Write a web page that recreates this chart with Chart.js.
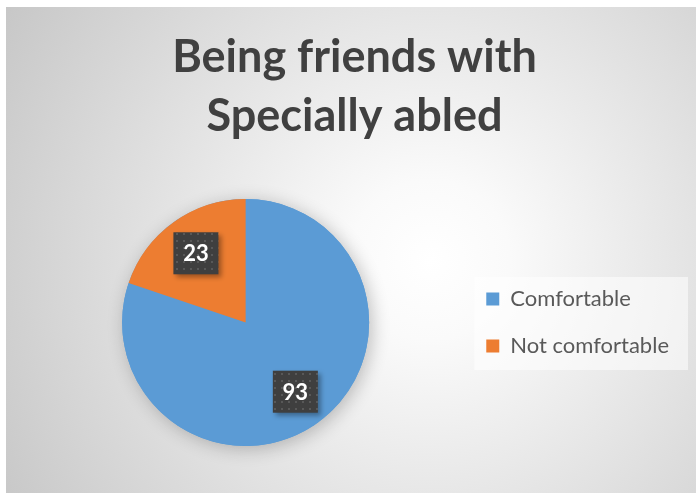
<!DOCTYPE html>
<html>
<head>
<meta charset="utf-8">
<script src="https://cdn.jsdelivr.net/npm/chart.js@4"></script>
<style>
  html, body { margin: 0; padding: 0; background: #ffffff; }
  #wrap {
    position: absolute; left: 6px; top: 7px; width: 690px; height: 486px;
    background: radial-gradient(circle at 424px 253px, #ffffff 0px, #fafafa 80px, #c4c4c4 520px);
  }
</style>
</head>
<body>
<div id="wrap"><canvas id="myChart" width="690" height="486"></canvas></div>
<script>
const categories = ['Comfortable', 'Not comfortable'];
const counts = [93, 23];
const sliceColors = ['#5B9BD5', '#ED7D31'];
const chartTitle = ['Being friends with', 'Specially abled'];

// dark dotted fill used behind the value labels
function dotPattern(ctx) {
    const c = document.createElement('canvas');
    c.width = 7; c.height = 7;
    const p = c.getContext('2d');
    p.fillStyle = '#3f3f3f';
    p.fillRect(0, 0, 7, 7);
    p.fillStyle = '#585858';
    p.fillRect(2, 2, 2, 2);
    return ctx.createPattern(c, 'repeat');
}

const extras = {
    id: 'extras',
    afterLayout(chart) {
        // keep the legend items centred on the pie
        const lg = chart.legend;
        const lab = lg.options.labels;
        const n = lg.legendItems ? lg.legendItems.length : categories.length;
        const itemH = lab.font.size;
        const block = n * itemH + (n - 1) * lab.padding;
        const mid = (chart.chartArea.top + chart.chartArea.bottom) / 2;
        const h = lg.height;
        lg.top = mid - block / 2 - lab.padding;
        lg.bottom = lg.top + h;
    },
    beforeDraw(chart) {
        // soft panel behind the legend
        const lg = chart.legend;
        const lab = lg.options.labels;
        const n = categories.length;
        const ctx = chart.ctx;
        ctx.font = lab.font.size + 'px Lato';
        let textW = 0;
        categories.forEach(t => { textW = Math.max(textW, ctx.measureText(t).width); });
        const x0 = lg.left + lab.padding - 12;
        const y0 = lg.top + lab.padding - 11;
        const w = lab.boxWidth + lab.font.size / 2 + textW + 31;
        const h = n * lab.font.size + (n - 1) * lab.padding + 24;
        ctx.save();
        ctx.fillStyle = 'rgba(255,255,255,0.55)';
        ctx.fillRect(x0, y0, w, h);
        ctx.restore();
    },
    beforeDatasetsDraw(chart) {
        // shadow under the whole pie
        const arc = chart.getDatasetMeta(0).data[0];
        if (!arc) return;
        const ctx = chart.ctx;
        ctx.save();
        ctx.shadowColor = 'rgba(0,0,0,0.24)';
        ctx.shadowBlur = 18;
        ctx.shadowOffsetX = 3;
        ctx.shadowOffsetY = 3;
        ctx.fillStyle = sliceColors[0];
        ctx.beginPath();
        ctx.arc(arc.x, arc.y, arc.outerRadius, 0, Math.PI * 2);
        ctx.fill();
        ctx.restore();
    },
    afterDatasetsDraw(chart) {
        const ctx = chart.ctx;
        const fill = dotPattern(ctx);
        chart.getDatasetMeta(0).data.forEach((arc, i) => {
            const mid = (arc.startAngle + arc.endAngle) / 2;
            const r = arc.outerRadius * 0.69;
            const x = arc.x + Math.cos(mid) * r;
            const y = arc.y + Math.sin(mid) * r;
            const w = 45, h = 42;
            ctx.save();
            ctx.shadowColor = 'rgba(0,0,0,0.35)';
            ctx.shadowBlur = 5;
            ctx.shadowOffsetX = 3;
            ctx.shadowOffsetY = 3;
            ctx.fillStyle = fill;
            ctx.fillRect(x - w / 2, y - h / 2, w, h);
            ctx.restore();
            ctx.save();
            ctx.fillStyle = '#ffffff';
            ctx.font = 'bold 22px Lato';
            ctx.textAlign = 'center';
            ctx.textBaseline = 'middle';
            ctx.fillText(String(counts[i]), x, y + 1);
            ctx.restore();
        });
    }
};

const ctx = document.getElementById('myChart').getContext('2d');
const pieChart = new Chart(ctx, {
    type: 'pie',
    data: {
        labels: categories,
        datasets: [{
            data: counts,
            backgroundColor: sliceColors,
            borderWidth: 0
        }]
    },
    options: {
        responsive: false,
        animation: false,
        layout: {
            padding: { left: 24, right: 17, top: 0, bottom: 47 }
        },
        plugins: {
            title: {
                display: true,
                text: chartTitle,
                color: '#404040',
                font: { family: 'Lato', size: 45, weight: 'bold', lineHeight: 1.311 },
                padding: { top: 21, bottom: 53 }
            },
            legend: {
                position: 'right',
                align: 'start',
                labels: {
                    color: '#595959',
                    font: { family: 'Lato', size: 22 },
                    boxWidth: 13,
                    boxHeight: 13,
                    padding: 25
                }
            },
            tooltip: { enabled: false }
        }
    },
    plugins: [extras]
});
</script>
</body>
</html>
